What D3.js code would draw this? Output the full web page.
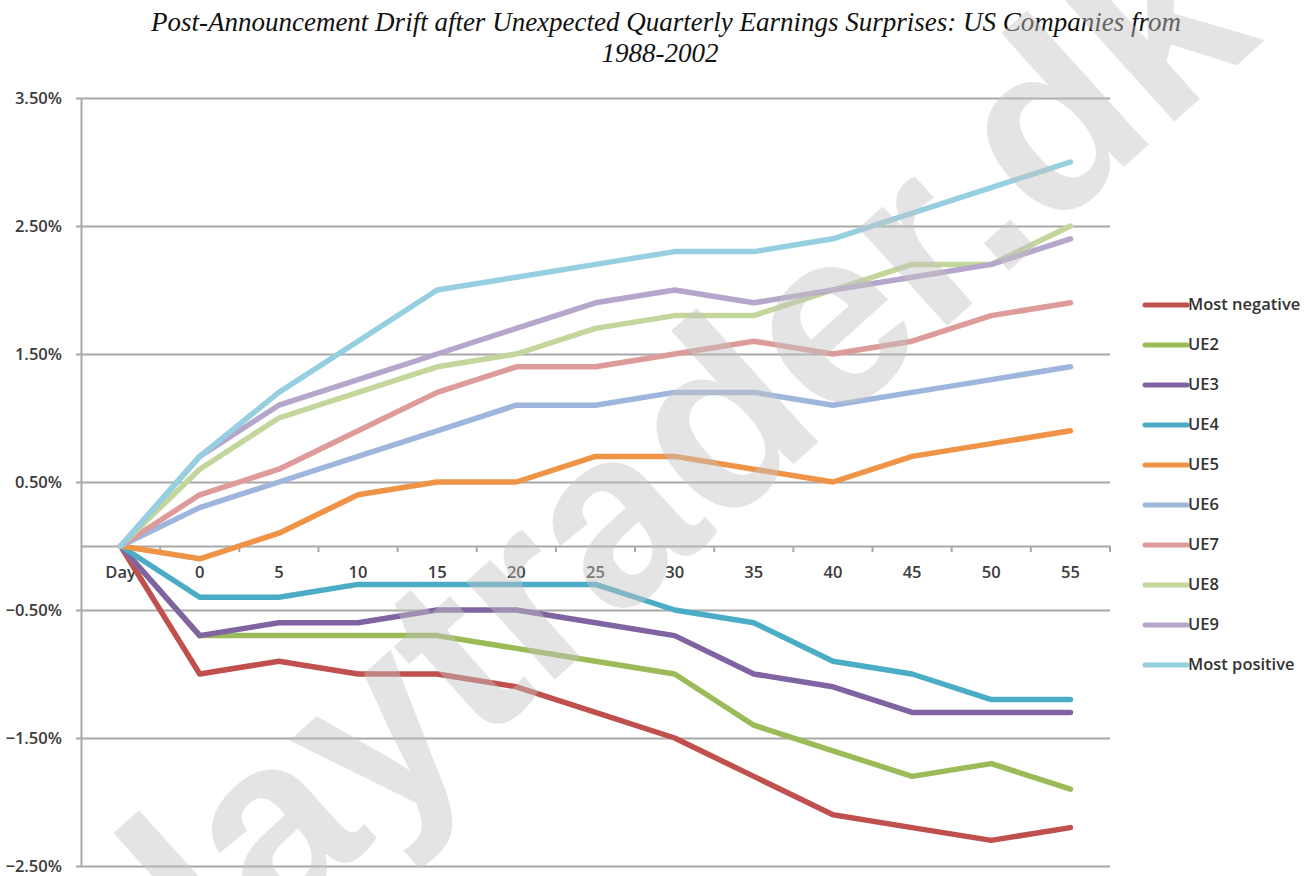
<!DOCTYPE html>
<html>
<head>
<meta charset="utf-8">
<script src="https://cdn.jsdelivr.net/npm/d3@7"></script>
<style>
  body { margin: 0; background: #fff; }
  svg { display: block; }
</style>
</head>
<body>
<div id="chart"></div>
<script>
// categories on the x axis
var days = ["Day", "0", "5", "10", "15", "20", "25", "30", "35", "40", "45", "50", "55"];

// cumulative drift (%) per earnings surprise group
var mostNegative = [0, -1.0, -0.9, -1.0, -1.0, -1.1, -1.3, -1.5, -1.8, -2.1, -2.2, -2.3, -2.2];
var ue2 = [0, -0.7, -0.7, -0.7, -0.7, -0.8, -0.9, -1.0, -1.4, -1.6, -1.8, -1.7, -1.9];
var ue3 = [0, -0.7, -0.6, -0.6, -0.5, -0.5, -0.6, -0.7, -1.0, -1.1, -1.3, -1.3, -1.3];
var ue4 = [0, -0.4, -0.4, -0.3, -0.3, -0.3, -0.3, -0.5, -0.6, -0.9, -1.0, -1.2, -1.2];
var ue5 = [0, -0.1, 0.1, 0.4, 0.5, 0.5, 0.7, 0.7, 0.6, 0.5, 0.7, 0.8, 0.9];
var ue6 = [0, 0.3, 0.5, 0.7, 0.9, 1.1, 1.1, 1.2, 1.2, 1.1, 1.2, 1.3, 1.4];
var ue7 = [0, 0.4, 0.6, 0.9, 1.2, 1.4, 1.4, 1.5, 1.6, 1.5, 1.6, 1.8, 1.9];
var ue8 = [0, 0.6, 1.0, 1.2, 1.4, 1.5, 1.7, 1.8, 1.8, 2.0, 2.2, 2.2, 2.5];
var ue9 = [0, 0.7, 1.1, 1.3, 1.5, 1.7, 1.9, 2.0, 1.9, 2.0, 2.1, 2.2, 2.4];
var mostPositive = [0, 0.7, 1.2, 1.6, 2.0, 2.1, 2.2, 2.3, 2.3, 2.4, 2.6, 2.8, 3.0];

var seriesNames = ["Most negative", "UE2", "UE3", "UE4", "UE5", "UE6", "UE7", "UE8", "UE9", "Most positive"];
var seriesValues = [mostNegative, ue2, ue3, ue4, ue5, ue6, ue7, ue8, ue9, mostPositive];
var colors = ["#c0504d", "#9bbb59", "#8064a2", "#4bacc6", "#ef9447",
    "#9fb6dc", "#dd9b99", "#c3d69b", "#b7a6cb", "#95cfe0"];

var yTicks = [-2.5, -1.5, -0.5, 0.5, 1.5, 2.5, 3.5];

var width = 1314;
var height = 876;
var plotLeft = 81, plotRight = 1110, plotTop = 98, plotBottom = 866;

var svg = d3.select("#chart")
    .append("svg")
    .attr("width", width)
    .attr("height", height);

var x = d3.scaleBand()
    .domain(days)
    .range([plotLeft, plotRight]);

var y = d3.scaleLinear()
    .domain([-2.5, 3.5])
    .range([plotBottom, plotTop]);

var axisFont = "'Open Sans', 'DejaVu Sans', sans-serif";

// title
var title = svg.append("g")
    .attr("font-family", "'Liberation Serif', 'Times New Roman', serif")
    .attr("font-style", "italic")
    .attr("font-size", 27)
    .attr("fill", "#111")
    .attr("text-anchor", "middle");
title.append("text").attr("x", 666).attr("y", 31)
    .text("Post-Announcement Drift after Unexpected Quarterly Earnings Surprises: US Companies from");
title.append("text").attr("x", 660).attr("y", 62).text("1988-2002");

// horizontal gridlines + y labels
var yAxis = d3.axisLeft(y)
    .tickValues(yTicks)
    .tickSizeInner(-(plotRight - plotLeft))
    .tickSizeOuter(0)
    .tickPadding(19)
    .tickFormat(function (d) { return d3.format(".2f")(d) + "%"; });

var gy = svg.append("g")
    .attr("transform", "translate(" + plotLeft + ",0)")
    .call(yAxis);
gy.select(".domain").attr("stroke", "#a8a8a8").attr("stroke-width", 2);
gy.selectAll(".tick line")
    .attr("x1", -5)
    .attr("stroke", "#a8a8a8")
    .attr("stroke-width", 2);
gy.selectAll(".tick text")
    .attr("font-family", axisFont)
    .attr("font-size", 16.5)
    .attr("font-weight", 600)
    .attr("fill", "#3b3b3b");

// x axis at zero
var xAxis = d3.axisBottom(x).tickSize(0).tickPadding(20);
var gx = svg.append("g")
    .attr("transform", "translate(0," + y(0) + ")")
    .call(xAxis);
gx.select(".domain").attr("stroke", "#a8a8a8").attr("stroke-width", 2);
gx.selectAll(".tick text")
    .attr("font-family", axisFont)
    .attr("font-size", 16.5)
    .attr("font-weight", 600)
    .attr("fill", "#3b3b3b");

// small tick marks between the categories
svg.append("g").selectAll("line")
    .data(days.slice(1).concat(["end"]))
    .enter()
    .append("line")
    .attr("x1", function (d) { return d === "end" ? plotRight : x(d); })
    .attr("x2", function (d) { return d === "end" ? plotRight : x(d); })
    .attr("y1", y(0))
    .attr("y2", y(0) + 6)
    .attr("stroke", "#a8a8a8")
    .attr("stroke-width", 2);

// series lines
var line = d3.line()
    .x(function (d, i) { return x(days[i]) + x.bandwidth() / 2; })
    .y(function (d) { return y(d); });

svg.append("g").selectAll("path")
    .data(seriesValues)
    .enter()
    .append("path")
    .attr("d", line)
    .attr("fill", "none")
    .attr("stroke", function (d, i) { return colors[i]; })
    .attr("stroke-width", 5.5)
    .attr("stroke-linejoin", "round")
    .attr("stroke-linecap", "round");

// legend
var legend = svg.append("g").selectAll("g")
    .data(seriesNames)
    .enter()
    .append("g")
    .attr("transform", function (d, i) { return "translate(1143," + (305 + i * 40) + ")"; });

legend.append("line")
    .attr("x1", 2).attr("x2", 44)
    .attr("stroke", function (d, i) { return colors[i]; })
    .attr("stroke-width", 5)
    .attr("stroke-linecap", "round");

legend.append("text")
    .attr("x", 45)
    .attr("y", 5)
    .attr("font-family", axisFont)
    .attr("font-size", 16.5)
    .attr("font-weight", 600)
    .attr("fill", "#333")
    .text(function (d) { return d; });

// watermark
svg.append("text")
    .attr("transform", "translate(662,482) rotate(-42)")
    .attr("text-anchor", "middle")
    .attr("dy", "0.3em")
    .attr("font-family", "'Liberation Sans', Arial, sans-serif")
    .attr("font-weight", "bold")
    .attr("font-size", 250)
    .attr("fill", "#c4c4c4")
    .attr("fill-opacity", 0.45)
    .text("daytrader.dk");
</script>
</body>
</html>
